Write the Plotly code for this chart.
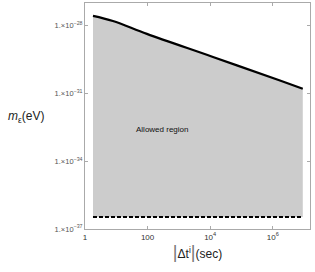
import plotly.graph_objects as go

# data
dt_sec = [1.8, 7.8, 95, 12300, 1.7e6, 9.1e6]
m_upper = [2.7e-28, 1.6e-28, 4.3e-29, 4.1e-30, 3.7e-31, 1.6e-31]
m_lower_const = 3.4e-37
lower_x = [dt_sec[0], dt_sec[-1]]
lower_y = [m_lower_const, m_lower_const]

y_tickvals = [1e-37, 1e-34, 1e-31, 1e-28]
y_ticktext = ["1.×10<sup>−37</sup>", "1.×10<sup>−34</sup>", "1.×10<sup>−31</sup>", "1.×10<sup>−28</sup>"]
x_tickvals = [1, 100, 1e4, 1e6]
x_ticktext = ["1", "100", "10<sup>4</sup>", "10<sup>6</sup>"]

fig = go.Figure()
# shaded allowed region polygon
poly_x = dt_sec + lower_x[::-1]
poly_y = m_upper + lower_y[::-1]
fig.add_trace(go.Scatter(x=poly_x, y=poly_y, fill="toself", fillcolor="#cccccc",
                         line=dict(width=0), mode="lines", hoverinfo="skip", showlegend=False))
fig.add_trace(go.Scatter(x=dt_sec, y=m_upper, mode="lines", line=dict(color="black", width=2.2, shape="spline"),
                         showlegend=False))
fig.add_trace(go.Scatter(x=lower_x, y=lower_y, mode="lines", line=dict(color="black", width=2, dash="4px,2px"),
                         showlegend=False))

fig.add_annotation(x=2.46, y=-32.6, xref="x", yref="y", text="Allowed region", showarrow=False,
                   font=dict(size=8, color="#111111", family="Liberation Sans"))

axis_common = dict(showgrid=False, zeroline=False, showline=True, linecolor="#aaaaaa", linewidth=1,
                   mirror="ticks", ticks="inside", ticklen=3, tickcolor="#aaaaaa")
fig.update_xaxes(type="log", range=[0, 7.19], tickvals=x_tickvals, ticktext=x_ticktext,
                 tickfont=dict(size=8, color="#333333", family="Liberation Sans"),
                 title=dict(text="<span style='font-size:18px;color:#777'>|</span>Δt<sup>i</sup><span style='font-size:18px;color:#777'>|</span>(sec)",
                            font=dict(size=12, color="#222222", family="Liberation Sans"), standoff=6),
                 **axis_common)
fig.update_yaxes(type="log", range=[-37, -27], tickvals=y_tickvals, ticktext=y_ticktext,
                 tickfont=dict(size=7.5, color="#555555", family="Liberation Sans"),
                 **axis_common)
fig.add_annotation(x=(26 - 85) / 225, y=(229 - 117) / 226, xref="paper", yref="paper",
                   text="<i>m</i><sub>ε</sub>(eV)", showarrow=False, xanchor="center", yanchor="middle",
                   font=dict(size=12, color="#222222", family="Liberation Sans"))

fig.update_layout(width=315, height=272, margin=dict(l=85, r=5, t=3, b=43),
                  plot_bgcolor="white", paper_bgcolor="white")
fig.write_html("out.html", config={"displayModeBar": False},
               post_script="document.body.style.margin='0';")
